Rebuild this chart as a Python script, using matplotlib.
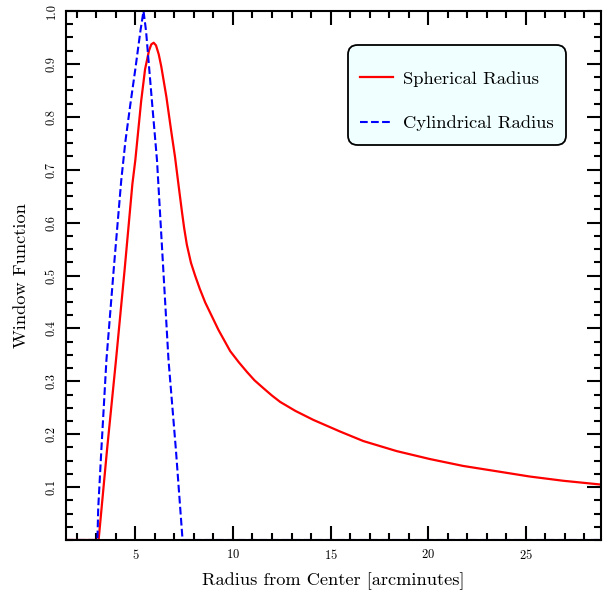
import matplotlib
matplotlib.use("Agg")
import matplotlib.pyplot as plt
from matplotlib.ticker import MultipleLocator
from matplotlib.patches import FancyBboxPatch

plt.rcParams['font.family'] = 'serif'
plt.rcParams['font.serif'] = ['cmr10']
plt.rcParams['mathtext.fontset'] = 'cm'
plt.rcParams['axes.formatter.use_mathtext'] = True

# Spherical radius window function
sph_x = [1.45, 3.12, 3.55, 4.01, 4.45, 4.85, 5.00, 5.30, 5.50, 5.70, 5.82, 5.94,
         6.06, 6.20, 6.33, 6.59, 6.85, 7.03, 7.21, 7.39, 7.50, 7.64, 7.85, 8.07,
         8.30, 8.58, 9.26, 9.86, 10.30, 10.71, 11.10, 11.56, 12.00, 12.42, 13.2,
         14.12, 15.49, 16.68, 18.39, 20.09, 21.79, 23.50, 25.20, 26.91, 28.79, 28.9]
sph_y = [0.0, 0.0, 0.17, 0.34, 0.51, 0.673, 0.718, 0.83, 0.89, 0.925, 0.937, 0.940,
         0.935, 0.918, 0.895, 0.838, 0.77, 0.725, 0.672, 0.62, 0.590, 0.558, 0.524, 0.499,
         0.475, 0.449, 0.397, 0.357, 0.336, 0.318, 0.302, 0.287, 0.273, 0.261, 0.244,
         0.227, 0.205, 0.187, 0.168, 0.153, 0.140, 0.130, 0.120, 0.112, 0.105, 0.105]

# Cylindrical radius window function
cyl_x = [1.45, 3.06, 3.10, 3.26, 3.52, 3.89, 4.28, 4.49, 4.74, 5.0, 5.26, 5.42,
         5.55, 5.85, 6.11, 6.70, 7.08, 7.42, 28.9]
cyl_y = [0.0, 0.0, 0.06, 0.17, 0.34, 0.51, 0.68, 0.753, 0.822, 0.89, 0.962, 1.0,
         0.962, 0.83, 0.718, 0.34, 0.17, 0.0, 0.0]

labels = ["Spherical Radius", "Cylindrical Radius"]

fig = plt.figure(figsize=(6.06, 5.95), dpi=100)
ax = fig.add_axes([66/606, 55/595, 535/606, 529/595])

ax.plot(sph_x, sph_y, color='red', lw=1.6, label=labels[0])
ax.plot(cyl_x, cyl_y, color='blue', lw=1.5, ls='--', label=labels[1])

ax.set_xlim(1.45, 28.85)
ax.set_ylim(0.0, 1.0)
ax.xaxis.set_major_locator(MultipleLocator(5))
ax.xaxis.set_minor_locator(MultipleLocator(1))
ax.yaxis.set_minor_locator(MultipleLocator(0.025))
ax.set_yticks([0.1, 0.2, 0.3, 0.4, 0.5, 0.6, 0.7, 0.8, 0.9, 1.0])
ax.set_yticklabels(["0.1", "0.2", "0.3", "0.4", "0.5", "0.6", "0.7", "0.8", "0.9", "1.0"])

ax.tick_params(which='both', direction='in', top=True, right=True, width=1.5, labelsize=9)
ax.tick_params(which='major', length=10)
ax.tick_params(which='minor', length=5)
ax.tick_params(axis='x', pad=6)
ax.tick_params(axis='y', labelrotation=90, pad=6)
for t in ax.get_yticklabels():
    t.set_va('center')
for s in ax.spines.values():
    s.set_linewidth(1.5)

ax.set_xlabel("Radius from Center [arcminutes]", fontsize=13.2, labelpad=7)
ax.set_ylabel("Window Function", fontsize=13.2, labelpad=12)

# legend box (rounded, light cyan)
box = FancyBboxPatch(((348-66)/535, (540-145)/529), 218/535, 100/529,
                     boxstyle="round,pad=0,rounding_size=0.018",
                     transform=ax.transAxes, facecolor='#f0ffff', edgecolor='black',
                     linewidth=1.3, zorder=4)
ax.add_patch(box)
leg = ax.legend(loc='center', bbox_to_anchor=((457-66)/535, (540-101)/529),
                borderaxespad=0, borderpad=0, fontsize=13.4, handlelength=1.8,
                handletextpad=0.55, labelspacing=1.52, frameon=False)
leg.set_zorder(5)

fig.savefig("out.png", dpi=100)
